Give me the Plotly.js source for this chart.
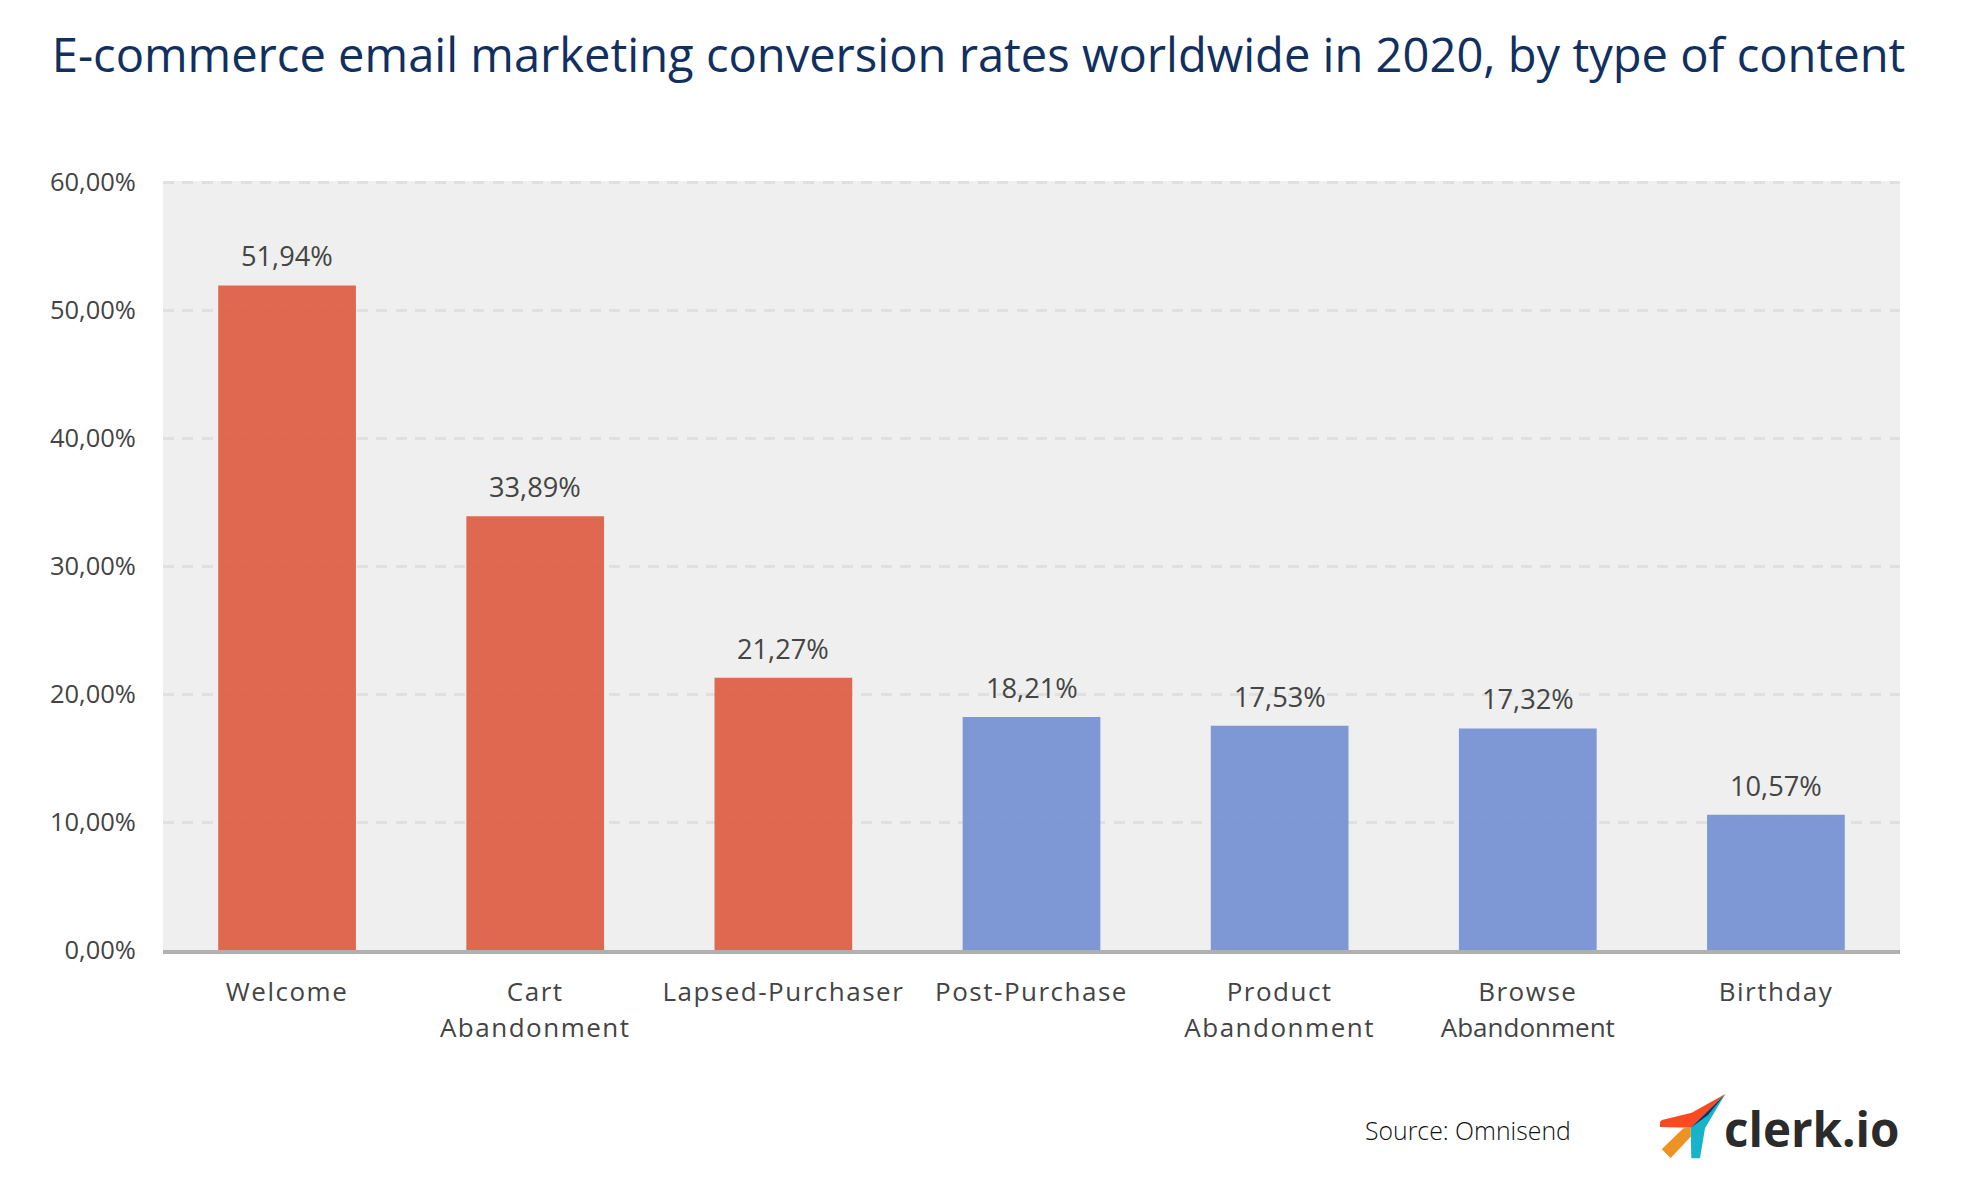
<!DOCTYPE html>
<html><head><meta charset="utf-8">
<script src="https://cdn.plot.ly/plotly-3.0.1.min.js"></script>
<style>html,body{margin:0;padding:0;background:#fff}
#c{width:1963px;height:1185px}
.xtick text{letter-spacing:1.5px}
</style></head><body><div id="c"></div>
<script>
const categories=["Welcome","Cart<br>Abandonment","Lapsed-Purchaser","Post-Purchase","Product<br>Abandonment","Browse<br>Abandonment","Birthday"];
const rates=[51.94,33.89,21.27,18.21,17.53,17.32,10.57];
const rateLabels=["51,94%","33,89%","21,27%","18,21%","17,53%","17,32%","10,57%"];
const barColors=["#df634b","#df634b","#df634b","#7a95d5","#7a95d5","#7a95d5","#7a95d5"];
const yTicks=[0,10,20,30,40,50,60];
const yTickLabels=["0,00%","10,00%","20,00%","30,00%","40,00%","50,00%","60,00%"];
const titleText="E-commerce email marketing conversion rates worldwide in 2020, by type of content";
const sourceText="Source: Omnisend";
const logoText="clerk.io";
const W=1963,H=1185,L=163,R=1900,T=180.72,B=950;
const px=x=>(x-L)/(R-L), py=y=>(B-y)/(B-T);
function poly(pts){return pts.map((p,i)=>(i?'L':'M')+px(p[0]).toFixed(5)+','+py(p[1]).toFixed(5)).join(' ')+' Z';}
const logo=[
 {c:"#fb4a22",p:[[1725.3,1094],[1691.7,1112.7],[1662,1120],[1660,1122],[1660,1127],[1691,1127.7]]},
 {c:"#ec9323",p:[[1690.7,1127.7],[1683.3,1128.3],[1661.7,1149.3],[1670.7,1158],[1690.7,1136.7]]},
 {c:"#17b3c9",p:[[1690.7,1127.7],[1691.3,1158.3],[1700,1158.3],[1705,1128.3],[1725.3,1094]]},
 {c:"#12305f",p:[[1725.3,1094],[1690.9,1127.7],[1708,1115]]}
];
const data=[{type:"bar",x:categories,y:rates,width:0.555,
 marker:{color:barColors,opacity:0.97,line:{width:0}},hoverinfo:"skip"}];
const annotations=rates.map((v,i)=>({x:categories[i],y:v,xref:"x",yref:"y",
 text:rateLabels[i],showarrow:false,yanchor:"bottom",yshift:9,
 font:{family:"Open Sans",size:27.2,color:"#444444"}}));
annotations.push({xref:"paper",yref:"paper",x:px(1573),y:py(1130.5),text:sourceText,showarrow:false,xanchor:"right",yanchor:"middle",
 font:{family:"Open Sans",size:24.8,weight:300,color:"#111111"}});
annotations.push({xref:"paper",yref:"paper",x:px(1722),y:py(1128.5),text:"<b>"+logoText+"</b>",showarrow:false,xanchor:"left",yanchor:"middle",
 font:{family:"Open Sans",size:47.5,color:"#2b2b2b"}});
const layout={width:W,height:H,autosize:false,paper_bgcolor:"#fff",plot_bgcolor:"#efefef",showlegend:false,
 margin:{l:L,r:W-R,t:T,b:H-B,pad:0},
 font:{family:"Open Sans",color:"#444444",size:24},
 title:{text:titleText,font:{family:"Open Sans",size:47.1,color:"#12305f"},x:0.4985,xref:"container",xanchor:"center",y:1-56/H,yanchor:"middle"},
 xaxis:{type:"category",range:[-0.5,6.5],fixedrange:true,showgrid:false,zeroline:false,showline:true,linecolor:"#b0b0b0",linewidth:4,
  ticks:"outside",ticklen:16,tickcolor:"rgba(0,0,0,0)",tickfont:{family:"Open Sans",size:26,color:"#444444"},tickangle:0,automargin:false},
 yaxis:{range:[0,60.1],tickmode:"array",tickvals:yTicks,ticktext:yTickLabels,fixedrange:true,showline:false,zeroline:false,
  gridcolor:"#e0e0e0",griddash:"11px,8.4px",gridwidth:3,ticks:"outside",ticklen:21,tickcolor:"rgba(0,0,0,0)",
  tickfont:{family:"Open Sans",size:25.5,color:"#444444"},automargin:false},
 annotations,
 shapes:logo.map(s=>({type:"path",xref:"paper",yref:"paper",path:poly(s.p),fillcolor:s.c,line:{width:0},layer:"above"}))
};
Plotly.newPlot("c",data,layout,{displayModeBar:false,staticPlot:true}).then(()=>{
 document.querySelectorAll(".xtick text").forEach(t=>{
  const lines=t.querySelectorAll("tspan.line");
  if(lines.length>1){
   lines[1].setAttribute("dy","1.37em");
   if(t.textContent.startsWith("Browse"))lines[1].style.letterSpacing="0px";
  }
 });
});
</script></body></html>
